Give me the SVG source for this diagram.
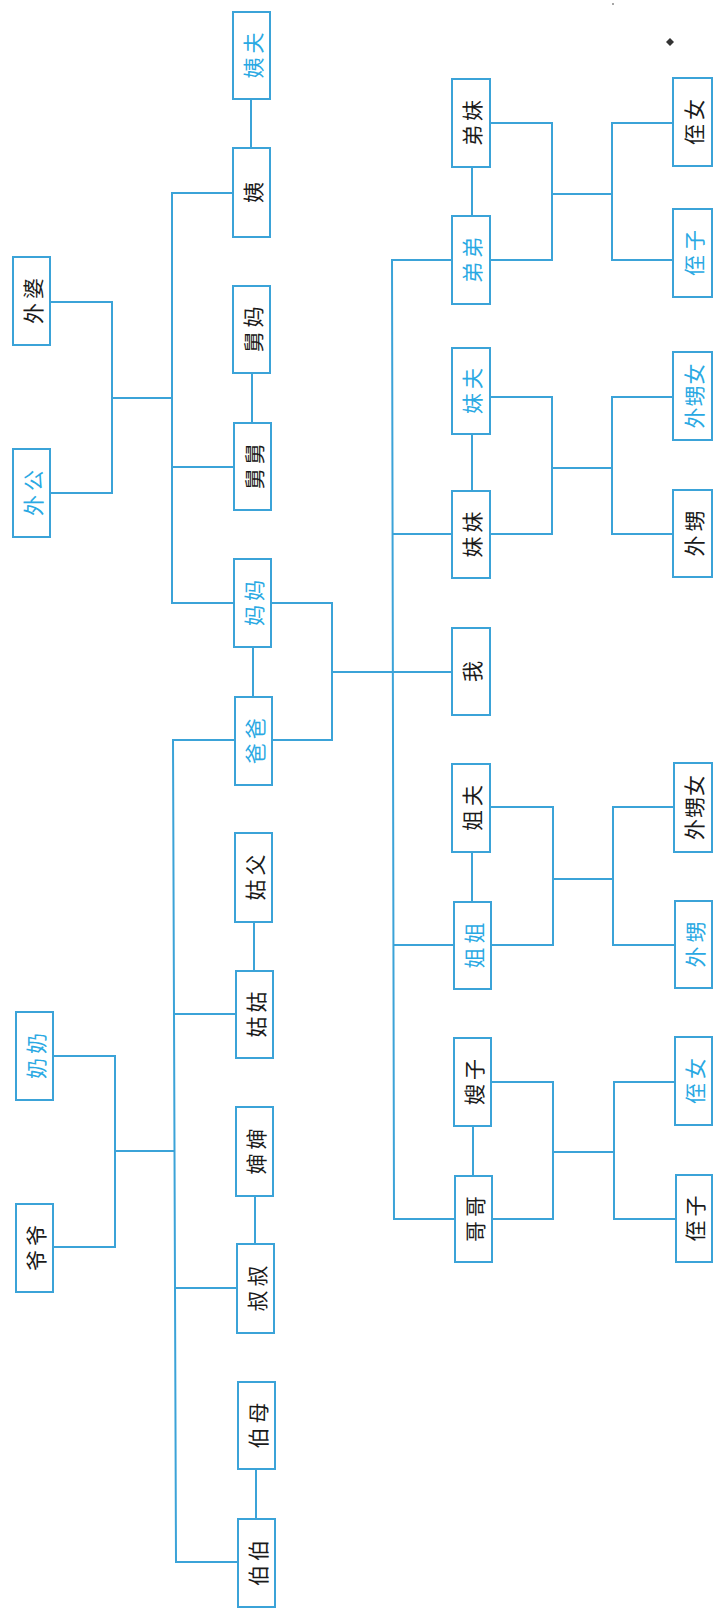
<svg xmlns="http://www.w3.org/2000/svg" width="714" height="1609" viewBox="0 0 714 1609">
<style>
.b{fill:#fff;stroke:#3ba3d8;stroke-width:2}
.t{font-family:"Noto Sans CJK SC","Noto Sans CJK JP",sans-serif;font-size:21px;text-anchor:middle;dominant-baseline:central;letter-spacing:4px;fill:#1a1a1a}
.blue{fill:#2aa9e3}
.c path{fill:none;stroke:#3ba3d8;stroke-width:2}
</style>
<rect width="714" height="1609" fill="#fff"/>
<g class="c" id="connectors">
<path d="M50 302H112V493H50M112 398H172M233 193H172V603H234M172 467H234"/>
<path d="M251 99V148M252 373V423M253 647V697"/>
<path d="M271 603H332V740H272M332 672H452"/>
<path d="M235 740H173L176 1562H238M174 1014H236M175 1288H237M52 1056H115V1247H53M115 1151H174"/>
<path d="M254 922V971M255 1196V1244M256 1469V1519"/>
<path d="M452 260H392L394 1219H455M392 534H452M393 945H454"/>
<path d="M472 167V216M472 434V491M472 852V902M473 1126V1176"/>
<path d="M490 123H552V260H490M552 194H612M673 123H612V260H673"/>
<path d="M490 397H552V534H490M552 468H612M673 397H612V534H673"/>
<path d="M490 807H553V945H491M553 879H613M674 807H613V945H675"/>
<path d="M491 1082H553V1219H492M553 1152H614M675 1082H614V1219H676"/>
</g>
<g id="n-waipo"><rect class="b" x="13" y="257" width="37" height="88"/><text class="t" x="33.5" y="301" transform="rotate(-90 31.5 301)">外婆</text></g>
<g id="n-waigong"><rect class="b" x="13" y="449" width="37" height="88"/><text class="t blue" x="33.5" y="493" transform="rotate(-90 31.5 493)">外公</text></g>
<g id="n-nainai"><rect class="b" x="16" y="1012" width="37" height="88"/><text class="t blue" x="36.5" y="1056" transform="rotate(-90 34.5 1056)">奶奶</text></g>
<g id="n-yeye"><rect class="b" x="16" y="1204" width="37" height="88"/><text class="t" x="36.5" y="1248" transform="rotate(-90 34.5 1248)">爷爷</text></g>

<g id="n-yifu"><rect class="b" x="233" y="12" width="37" height="87"/><text class="t blue" x="253.5" y="55.5" transform="rotate(-90 251.5 55.5)">姨夫</text></g>
<g id="n-yi"><rect class="b" x="233" y="148" width="37" height="89"/><text class="t" x="253.5" y="192.5" transform="rotate(-90 251.5 192.5)">姨</text></g>
<g id="n-jiuma"><rect class="b" x="233" y="286" width="37" height="87"/><text class="t" x="253.5" y="329.5" transform="rotate(-90 251.5 329.5)">舅妈</text></g>
<g id="n-jiujiu"><rect class="b" x="234" y="423" width="37" height="87"/><text class="t" x="254.5" y="466.5" transform="rotate(-90 252.5 466.5)">舅舅</text></g>
<g id="n-mama"><rect class="b" x="234" y="559" width="37" height="88"/><text class="t blue" x="254.5" y="603" transform="rotate(-90 252.5 603)">妈妈</text></g>
<g id="n-baba"><rect class="b" x="235" y="697" width="37" height="88"/><text class="t blue" x="255.5" y="741" transform="rotate(-90 253.5 741)">爸爸</text></g>
<g id="n-gufu"><rect class="b" x="235" y="833" width="37" height="89"/><text class="t" x="255.5" y="877.5" transform="rotate(-90 253.5 877.5)">姑父</text></g>
<g id="n-gugu"><rect class="b" x="236" y="971" width="37" height="87"/><text class="t" x="256.5" y="1014.5" transform="rotate(-90 254.5 1014.5)">姑姑</text></g>
<g id="n-shenshen"><rect class="b" x="236" y="1107" width="37" height="89"/><text class="t" x="256.5" y="1151.5" transform="rotate(-90 254.5 1151.5)">婶婶</text></g>
<g id="n-shushu"><rect class="b" x="237" y="1244" width="37" height="89"/><text class="t" x="257.5" y="1288.5" transform="rotate(-90 255.5 1288.5)">叔叔</text></g>
<g id="n-bomu"><rect class="b" x="238" y="1382" width="37" height="87"/><text class="t" x="258.5" y="1425.5" transform="rotate(-90 256.5 1425.5)">伯母</text></g>
<g id="n-bobo"><rect class="b" x="238" y="1519" width="37" height="88"/><text class="t" x="258.5" y="1563" transform="rotate(-90 256.5 1563)">伯伯</text></g>

<g id="n-dimei"><rect class="b" x="452" y="79" width="38" height="88"/><text class="t" x="473" y="123" transform="rotate(-90 471 123)">弟妹</text></g>
<g id="n-didi"><rect class="b" x="452" y="216" width="38" height="88"/><text class="t blue" x="473" y="260" transform="rotate(-90 471 260)">弟弟</text></g>
<g id="n-meifu"><rect class="b" x="452" y="348" width="38" height="86"/><text class="t blue" x="473" y="391" transform="rotate(-90 471 391)">妹夫</text></g>
<g id="n-meimei"><rect class="b" x="452" y="491" width="38" height="87"/><text class="t" x="473" y="534.5" transform="rotate(-90 471 534.5)">妹妹</text></g>
<g id="n-wo"><rect class="b" x="452" y="628" width="38" height="87"/><text class="t" x="473" y="671.5" transform="rotate(-90 471 671.5)">我</text></g>
<g id="n-jiefu"><rect class="b" x="452" y="764" width="38" height="88"/><text class="t" x="473" y="808" transform="rotate(-90 471 808)">姐夫</text></g>
<g id="n-jiejie"><rect class="b" x="454" y="902" width="37" height="87"/><text class="t blue" x="474.5" y="945.5" transform="rotate(-90 472.5 945.5)">姐姐</text></g>
<g id="n-saozi"><rect class="b" x="454" y="1038" width="37" height="88"/><text class="t" x="474.5" y="1082" transform="rotate(-90 472.5 1082)">嫂子</text></g>
<g id="n-gege"><rect class="b" x="455" y="1176" width="37" height="86"/><text class="t" x="475.5" y="1219" transform="rotate(-90 473.5 1219)">哥哥</text></g>

<g id="n-zhinv1"><rect class="b" x="673" y="78" width="39" height="88"/><text class="t" x="694.5" y="122" transform="rotate(-90 692.5 122)">侄女</text></g>
<g id="n-zhizi1"><rect class="b" x="673" y="209" width="39" height="88"/><text class="t blue" x="694.5" y="253" transform="rotate(-90 692.5 253)">侄子</text></g>
<g id="n-waishengnv1"><rect class="b" x="673" y="352" width="39" height="88"/><text class="t blue" x="694.5" y="396" transform="rotate(-90 692.5 396)" style="letter-spacing:1px" dx="-1.5">外甥女</text></g>
<g id="n-waisheng1"><rect class="b" x="673" y="490" width="39" height="87"/><text class="t" x="694.5" y="533.5" transform="rotate(-90 692.5 533.5)">外甥</text></g>
<g id="n-waishengnv2"><rect class="b" x="674" y="763" width="38" height="89"/><text class="t" x="695" y="807.5" transform="rotate(-90 693 807.5)" style="letter-spacing:1px" dx="-1.5">外甥女</text></g>
<g id="n-waisheng2"><rect class="b" x="675" y="901" width="37" height="87"/><text class="t blue" x="695.5" y="944.5" transform="rotate(-90 693.5 944.5)">外甥</text></g>
<g id="n-zhinv2"><rect class="b" x="675" y="1037" width="37" height="88"/><text class="t blue" x="695.5" y="1081" transform="rotate(-90 693.5 1081)">侄女</text></g>
<g id="n-zhizi2"><rect class="b" x="676" y="1175" width="36" height="87"/><text class="t" x="696" y="1218.5" transform="rotate(-90 694 1218.5)">侄子</text></g>

<path d="M670 38L674 42L670 46L666 42Z" fill="#333"/>
<circle cx="613" cy="4" r="1" fill="#888"/>
</svg>
